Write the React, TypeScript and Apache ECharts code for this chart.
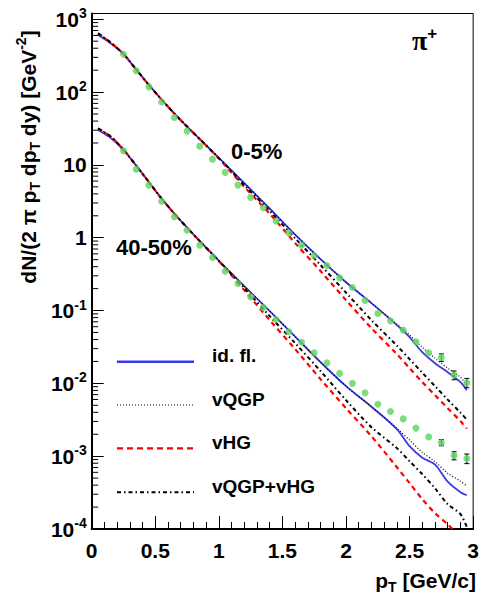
import React, { useEffect, useRef } from 'react';
import * as echarts from 'echarts';

// ---------- data ----------
const PT_DATA = [0.25, 0.35, 0.45, 0.55, 0.65, 0.75, 0.85, 0.95, 1.05, 1.15, 1.25, 1.35, 1.45, 1.55,
  1.65, 1.75, 1.85, 1.95, 2.05, 2.15, 2.25, 2.35, 2.45, 2.55, 2.65, 2.75, 2.85, 2.95];

const DATA_0_5 = [330, 196, 118, 73, 44.9, 29.1, 18.1, 12.0, 7.9, 5.28, 3.58, 2.58, 1.70, 1.16,
  0.79, 0.567, 0.415, 0.281, 0.207, 0.138, 0.0912, 0.072, 0.0538, 0.0372, 0.0262, 0.0227, 0.0130, 0.0102];
const ERR_0_5 = [0, 0, 0, 0, 0, 0, 0, 0, 0, 0, 0, 0, 0, 0,
  0, 0, 0, 0, 0, 0, 0, 0, 0, 0, 0, 0.0027, 0.0018, 0.0015];

const DATA_40_50 = [15.6, 8.75, 5.28, 3.16, 1.94, 1.27, 0.79, 0.535, 0.347, 0.235, 0.154, 0.110, 0.0755, 0.0510,
  0.0366, 0.0262, 0.0191, 0.0137, 0.0100, 0.00741, 0.00518, 0.00411, 0.00325, 0.00243, 0.00184, 0.00154, 0.00102, 0.00093];
const ERR_40_50 = [0, 0, 0, 0, 0, 0, 0, 0, 0, 0, 0, 0, 0, 0,
  0, 0, 0, 0, 0, 0, 0, 0, 0, 0, 0, 0.00015, 0.00013, 0.00014];

const PT_MODEL = [0.05, 0.15, 0.25, 0.35, 0.45, 0.55, 0.65, 0.75, 0.85, 0.95, 1.05, 1.2, 1.4, 1.6, 1.8, 2.0, 2.2, 2.4,
  2.5, 2.6, 2.7, 2.8, 2.9, 2.95];

const IDFL_0_5 = [607, 465, 333, 204, 125, 78.8, 50.7, 33.6, 22.6, 15.2, 10.26, 5.62, 2.51, 1.103, 0.508, 0.245, 0.1264, 0.0631,
  0.0431, 0.0268, 0.0189, 0.01425, 0.01038, 0.00807];
const VQGP_0_5 = [640, 478, 333, 204, 125, 78.8, 50.7, 33.6, 22.6, 15.2, 10.26, 5.62, 2.51, 1.103, 0.508, 0.245, 0.1264, 0.0651,
  0.0460, 0.0314, 0.0222, 0.0162, 0.01216, 0.00945];
const VHG_0_5 = [640, 478, 333, 204, 125, 78.8, 50.7, 33.6, 22.6, 15.0, 9.78, 4.99, 2.14, 0.843, 0.348, 0.139, 0.0573, 0.0252,
  0.01618, 0.01039, 0.00689, 0.00456, 0.00303, 0.00239];
const VQGPVHG_0_5 = [640, 478, 333, 204, 125, 78.8, 50.7, 33.6, 22.6, 15.2, 10.1, 5.28, 2.33, 0.981, 0.421, 0.176, 0.0738, 0.0330,
  0.0215, 0.0140, 0.00915, 0.00597, 0.00396, 0.00317];

const IDFL_40_50 = [30.1, 23.3, 15.97, 9.79, 5.80, 3.44, 2.14, 1.376, 0.898, 0.595, 0.3947, 0.2163, 0.0981, 0.0438, 0.01955, 0.00915,
  0.00478, 0.00235, 0.001374, 0.000954, 0.000764, 0.000446, 0.000320, 0.000291];
const VQGP_40_50 = [31.7, 24.5, 16.2, 9.79, 5.80, 3.44, 2.14, 1.376, 0.898, 0.595, 0.3947, 0.2163, 0.0981, 0.0438, 0.01955, 0.00915,
  0.00478, 0.00242, 0.00166, 0.00113, 0.00084, 0.000584, 0.000453, 0.000387];
const VHG_40_50 = [31.7, 24.5, 16.2, 9.79, 5.80, 3.44, 2.14, 1.376, 0.898, 0.59, 0.382, 0.1906, 0.0738, 0.0295, 0.01142, 0.00456,
  0.00188, 0.000706, 0.000426, 0.000257, 0.000165, 0.000116, 0.0000772, 0.0000638];
const VQGPVHG_40_50 = [31.7, 24.5, 16.2, 9.79, 5.80, 3.44, 2.14, 1.376, 0.898, 0.593, 0.389, 0.2030, 0.0838, 0.0357, 0.01471, 0.00588,
  0.00250, 0.00129, 0.000853, 0.000566, 0.000363, 0.000219, 0.000160, 0.000106];

const X_TICKS = [0, 0.5, 1, 1.5, 2, 2.5, 3];
const LEGEND_NAMES = ['id. fl.', 'vQGP', 'vHG', 'vQGP+vHG'];
const CENTRALITY_LABELS = ['0-5%', '40-50%'];

// ---------- styles ----------
const FONT = '"Liberation Sans", Arial, Helvetica, sans-serif';
const BLUE = '#3a3ae6';
const RED = '#ff0000';
const GREEN = '#5fd25f';
const STYLES: Record<string, any> = {
  'id. fl.': { color: BLUE, width: 1.8, type: 'solid' },
  'vQGP': { color: '#000', width: 1.2, type: [1, 2] },
  'vHG': { color: RED, width: 2.2, type: [5, 4] },
  'vQGP+vHG': { color: '#000', width: 2, type: [4, 3, 1.5, 3] },
};

const GRID = { left: 91.7, top: 13.5, right: 6.5, bottom: 66 };

function zip(xs: number[], ys: number[]) {
  return xs.map((x, i) => [x, ys[i]]);
}

function modelSeries(name: string, values: number[]) {
  const st = STYLES[name];
  return {
    type: 'line',
    name,
    data: zip(PT_MODEL, values),
    symbol: 'none',
    showSymbol: false,
    smooth: 0.3,
    clip: true,
    z: 3,
    lineStyle: { color: st.color, width: st.width, type: st.type },
    silent: true,
  };
}

function errorSeries(values: number[], errs: number[]) {
  const data = PT_DATA.map((x, i) => [x, values[i], errs[i]]).filter((d) => d[2] > 0);
  return {
    type: 'custom',
    z: 6,
    silent: true,
    data,
    renderItem: (_p: any, api: any) => {
      const x = api.value(0);
      const y = api.value(1);
      const e = api.value(2);
      const hi = api.coord([x, y + e]);
      const lo = api.coord([x, y - e]);
      const st = { stroke: '#000', lineWidth: 1 };
      return {
        type: 'group',
        children: [
          { type: 'line', shape: { x1: hi[0], y1: hi[1], x2: lo[0], y2: lo[1] }, style: st },
          { type: 'line', shape: { x1: hi[0] - 2.5, y1: hi[1], x2: hi[0] + 2.5, y2: hi[1] }, style: st },
          { type: 'line', shape: { x1: lo[0] - 2.5, y1: lo[1], x2: lo[0] + 2.5, y2: lo[1] }, style: st },
        ],
      };
    },
  };
}

// minor ticks of the log axis (2..9 x 10^k)
const MINOR_Y: number[][] = [];
for (let k = -4; k <= 2; k++) {
  for (let m = 2; m <= 9; m++) MINOR_Y.push([0, m * Math.pow(10, k)]);
}

function yLabel(v: number) {
  const e = Math.round(Math.log10(v));
  if (Math.abs(v - Math.pow(10, e)) / Math.pow(10, e) > 1e-6) return '';
  if (e === 0) return '{b|1}';
  if (e === 1) return '{b|10}';
  return '{b|10}{s|' + e + '}';
}

export default function App() {
  const ref = useRef<HTMLDivElement>(null);
  useEffect(() => {
    const chart = echarts.init(ref.current!, null, { renderer: 'svg' });
    const legendY = [361.7, 405, 448.3, 492.3];
    const legendGraphics: any[] = [];
    LEGEND_NAMES.forEach((n, i) => {
      const st = STYLES[n];
      legendGraphics.push({
        type: 'line',
        shape: { x1: 117, y1: legendY[i], x2: 194, y2: legendY[i] },
        style: {
          stroke: st.color,
          lineWidth: n === 'id. fl.' ? 2.5 : st.width,
          lineDash: n === 'vHG' ? [6, 4] : Array.isArray(st.type) ? st.type : null,
        },
      });
      legendGraphics.push({
        type: 'text',
        x: 212,
        y: legendY[i] - 6,
        style: {
          text: n,
          font: 'bold 19px ' + FONT,
          fill: '#000',
          verticalAlign: 'middle',
          align: 'left',
        },
      });
    });

    const option: any = {
      animation: false,
      backgroundColor: '#fff',
      grid: { ...GRID, show: true, borderColor: '#000', borderWidth: 1 },
      xAxis: {
        type: 'value',
        min: 0,
        max: 3,
        interval: 0.5,
        splitLine: { show: false },
        axisLine: { show: true, lineStyle: { color: '#000', width: 2 } },
        axisTick: { show: true, inside: true, length: 13, lineStyle: { color: '#000', width: 1 } },
        minorTick: { show: true, splitNumber: 5, length: 7, lineStyle: { color: '#000', width: 1 } },
        axisLabel: {
          color: '#000',
          fontSize: 21,
          fontWeight: 'bold',
          fontFamily: FONT,
          margin: 11,
          formatter: (v: number) => (X_TICKS.includes(v) ? String(v) : ''),
        },
      },
      yAxis: {
        type: 'log',
        logBase: 10,
        min: 1e-4,
        max: 1200,
        splitNumber: 7,
        splitLine: { show: false },
        axisLine: { show: true, lineStyle: { color: '#000', width: 2 } },
        axisTick: { show: true, inside: true, length: 12, lineStyle: { color: '#000', width: 1 } },
        minorTick: { show: false },
        axisLabel: {
          color: '#000',
          margin: 5,
          formatter: yLabel,
          rich: {
            b: { fontSize: 21, fontWeight: 'bold', fontFamily: FONT, color: '#000', lineHeight: 26 },
            s: { fontSize: 14, fontWeight: 'bold', fontFamily: FONT, color: '#000', lineHeight: 14, verticalAlign: 'top' },
          },
        },
      },
      series: [
        modelSeries('id. fl.', IDFL_0_5),
        modelSeries('vQGP', VQGP_0_5),
        modelSeries('vHG', VHG_0_5),
        modelSeries('vQGP+vHG', VQGPVHG_0_5),
        modelSeries('id. fl.', IDFL_40_50),
        modelSeries('vQGP', VQGP_40_50),
        modelSeries('vHG', VHG_40_50),
        modelSeries('vQGP+vHG', VQGPVHG_40_50),
        errorSeries(DATA_0_5, ERR_0_5),
        errorSeries(DATA_40_50, ERR_40_50),
        {
          type: 'scatter',
          name: '0-5% data',
          data: zip(PT_DATA, DATA_0_5),
          symbol: 'circle',
          symbolSize: 7,
          itemStyle: { color: GREEN },
          z: 7,
          silent: true,
        },
        {
          type: 'scatter',
          name: '40-50% data',
          data: zip(PT_DATA, DATA_40_50),
          symbol: 'circle',
          symbolSize: 7,
          itemStyle: { color: GREEN },
          z: 7,
          silent: true,
        },
        {
          type: 'custom',
          silent: true,
          z: 8,
          data: MINOR_Y,
          renderItem: (_p: any, api: any) => {
            const p = api.coord([api.value(0), api.value(1)]);
            return {
              type: 'line',
              shape: { x1: p[0], y1: p[1], x2: p[0] + 6.5, y2: p[1] },
              style: { stroke: '#000', lineWidth: 1 },
            };
          },
        },
      ],
      graphic: [
        ...legendGraphics,
        {
          type: 'text',
          x: 231,
          y: 151,
          style: { text: CENTRALITY_LABELS[0], font: 'bold 22px ' + FONT, fill: '#000', verticalAlign: 'middle' },
        },
        {
          type: 'text',
          x: 116,
          y: 247,
          style: { text: CENTRALITY_LABELS[1], font: 'bold 22px ' + FONT, fill: '#000', verticalAlign: 'middle' },
        },
        {
          type: 'text',
          x: 412,
          y: 40,
          style: {
            text: '{p|π}{s|+}',
            verticalAlign: 'middle',
            rich: {
              p: { fontSize: 28, fontWeight: 'bold', fontFamily: '"Liberation Serif", serif', fill: '#000', lineHeight: 30 },
              s: { fontSize: 17, fontWeight: 'bold', fontFamily: FONT, fill: '#000', lineHeight: 17, verticalAlign: 'top' },
            },
          },
        },
        {
          type: 'text',
          x: 28,
          y: 157,
          rotation: Math.PI / 2,
          style: {
            text: '{n|dN/(2 π p}{sub|T}{n| dp}{sub|T}{n| dy) [GeV}{sup|-2}{n|]}',
            align: 'center',
            verticalAlign: 'middle',
            rich: {
              n: { fontSize: 21, fontWeight: 'bold', fontFamily: FONT, fill: '#000', lineHeight: 28 },
              sub: { fontSize: 14, fontWeight: 'bold', fontFamily: FONT, fill: '#000', lineHeight: 14, verticalAlign: 'bottom' },
              sup: { fontSize: 14, fontWeight: 'bold', fontFamily: FONT, fill: '#000', lineHeight: 14, verticalAlign: 'top' },
            },
          },
        },
        {
          type: 'text',
          x: 476,
          y: 580,
          style: {
            text: '{n|p}{sub|T}{n| [GeV/c]}',
            align: 'right',
            verticalAlign: 'middle',
            rich: {
              n: { fontSize: 21, fontWeight: 'bold', fontFamily: FONT, fill: '#000', lineHeight: 28 },
              sub: { fontSize: 14, fontWeight: 'bold', fontFamily: FONT, fill: '#000', lineHeight: 14, verticalAlign: 'bottom' },
            },
          },
        },
      ],
    };
    chart.setOption(option);
    return () => chart.dispose();
  }, []);
  return <div ref={ref} style={{ position: 'fixed', left: 0, top: 0, width: 482, height: 595 }} />;
}
